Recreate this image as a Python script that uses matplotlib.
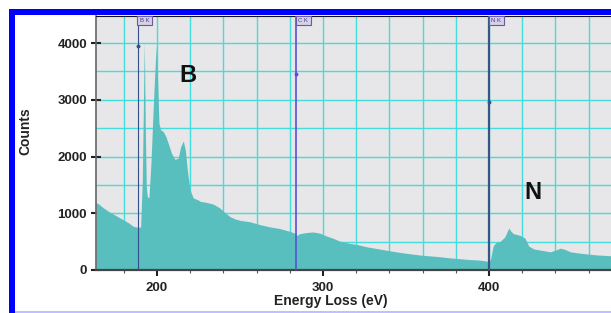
import matplotlib
matplotlib.use('Agg')
import matplotlib.pyplot as plt
from matplotlib.patches import Rectangle
from matplotlib.lines import Line2D
from matplotlib.transforms import blended_transform_factory
from matplotlib.ticker import MultipleLocator, FixedLocator

plt.rcParams['font.family'] = ['Liberation Sans', 'DejaVu Sans']
plt.rcParams['font.weight'] = 'bold'

# ---- data ----
energy = [163.3, 165, 168, 171, 174, 177, 180, 183, 185.7, 187.5, 188.7, 190.2,
          191.2, 191.8, 192.4, 193.0, 193.6, 194.2, 195.2, 196.4, 197.8, 199.0,
          199.6, 200.4, 201.2, 202.2, 203.8, 205.4, 206.8, 208.8, 210.8, 212.8,
          214.3, 215.9, 217.1, 218.3, 219.9, 221.9, 224.9,
          226, 230, 234, 238, 241, 244, 247, 250, 256, 262, 268, 274, 279, 283,
          284.5, 286, 290, 294, 298, 302, 306, 310, 316, 322, 326, 332, 338, 344,
          350, 358, 364, 370, 376, 382, 388, 394, 398, 400, 401, 402.5, 404,
          406.6, 409.6, 411, 412, 413, 414.7, 418.7, 421.7, 424, 427, 431, 437,
          440, 443, 446, 449, 455, 465, 474]
counts = [1190, 1160, 1090, 1030, 980, 930, 880, 830, 770, 760, 750, 760,
          1586, 2780, 4030, 2467, 1468, 1292, 1270, 1880, 2880, 3640,
          3950, 3350, 2590, 2470, 2440, 2350, 2233, 2056, 1950, 1970,
          2173, 2273, 2115, 1762, 1410, 1270, 1233,
          1210, 1190, 1160, 1090, 1010, 940, 900, 875, 850, 800, 760, 730, 690, 650,
          610, 640, 660, 670, 650, 600, 560, 510, 470, 440, 410, 380, 350, 320,
          295, 265, 250, 235, 215, 200, 185, 175, 160, 145, 200, 420, 480,
          500, 585, 680, 740, 690, 640, 610, 560, 420, 370, 350, 320,
          350, 385, 360, 320, 295, 265, 250]

edge_names = ['B K', 'C K', 'N K']
edge_energy = [188.5, 284.0, 400.3]
edge_marker_counts = [3950, 3450, 2960]
edge_colors = ['#34508c', '#5a4fd8', '#3a5585']
edge_widths = [0.8, 1.2, 1.6]

element_labels = ['B', 'N']
element_label_x = [218.4, 426.5]
element_label_y = [3430, 1360]

x_ticks = [200, 300, 400]
y_ticks = [0, 1000, 2000, 3000, 4000]

# ---- figure ----
W, H = 611, 313
fig = plt.figure(figsize=(W / 100, H / 100), dpi=100)
fig.patch.set_facecolor('white')

ax = fig.add_axes([96 / W, 1 - 270 / H, (611 - 96) / W, (270 - 16) / H])
ax.set_facecolor('#e7e6e8')
ax.set_xlim(163.3, 473.5)
ax.set_ylim(0, 4476)

ax.fill_between(energy, counts, 0, color='#58bebe', linewidth=0, zorder=2)

ax.xaxis.set_major_locator(FixedLocator(x_ticks))
ax.xaxis.set_minor_locator(MultipleLocator(20))
ax.yaxis.set_major_locator(FixedLocator(y_ticks))
ax.yaxis.set_minor_locator(MultipleLocator(500))
ax.set_axisbelow(True)
ax.grid(which='both', color='#45dcdc', linewidth=1.0, zorder=0)

ax.tick_params(axis='y', which='major', direction='inout', length=7, width=1.5,
               pad=3, labelsize=9.5, colors='#222222')
ax.tick_params(axis='y', which='minor', length=0)
ax.tick_params(axis='x', which='major', direction='inout', length=8, width=1.5,
               pad=4.5, labelsize=9.5, colors='#222222')
ax.tick_params(axis='x', which='minor', direction='out', length=2, width=0.8,
               colors='#555555')
for lab in ax.get_xticklabels() + ax.get_yticklabels():
    lab.set_fontweight('bold')

ax.spines['left'].set_color('#666666')
ax.spines['left'].set_linewidth(1.2)
ax.spines['bottom'].set_color('#444444')
ax.spines['bottom'].set_linewidth(1.6)
ax.spines['top'].set_color('#111111')
ax.spines['top'].set_linewidth(0.8)
ax.spines['right'].set_visible(False)

trans = blended_transform_factory(ax.transData, ax.transAxes)
for name, e, mc, col, lw in zip(edge_names, edge_energy, edge_marker_counts,
                                edge_colors, edge_widths):
    ax.axvline(e, color=col, linewidth=lw, zorder=3)
    ax.plot([e], [mc], marker='o', markersize=1.8, color=col, zorder=4)
    ax.text(e + 1.2, 0.992, name, transform=trans, ha='left', va='top',
            fontsize=4.3, fontweight='normal', color='#444466', zorder=5,
            bbox=dict(boxstyle='square,pad=0.4', facecolor='#d6d0ea',
                      edgecolor='#6a5a9d', linewidth=0.8))

for lab, lx, ly in zip(element_labels, element_label_x, element_label_y):
    ax.text(lx, ly, lab, ha='center', va='center', fontsize=17,
            fontweight='bold', color='#111111', zorder=5)

fig.text(25 / W, 1 - 131 / H, 'Counts', rotation=90, ha='center', va='center',
         fontsize=10, fontweight='bold', color='#222222')
fig.text(331 / W, 1 - 301 / H, 'Energy Loss (eV)', ha='center', va='center',
         fontsize=10, fontweight='bold', color='#222222')

# blue frame
fig.patches.append(Rectangle((9 / W, 0), 6 / W, (H - 9) / H,
                             transform=fig.transFigure, facecolor='#0000ff',
                             edgecolor='none', zorder=10))
fig.patches.append(Rectangle((9 / W, 1 - 15 / H), (W - 9) / W, 6 / H,
                             transform=fig.transFigure, facecolor='#0000ff',
                             edgecolor='none', zorder=10))
fig.lines.append(Line2D([15 / W, 1], [1 - 311.5 / H, 1 - 311.5 / H],
                        transform=fig.transFigure, color='#b4b4ff',
                        linewidth=1.2))

fig.savefig('out.png', dpi=100)
